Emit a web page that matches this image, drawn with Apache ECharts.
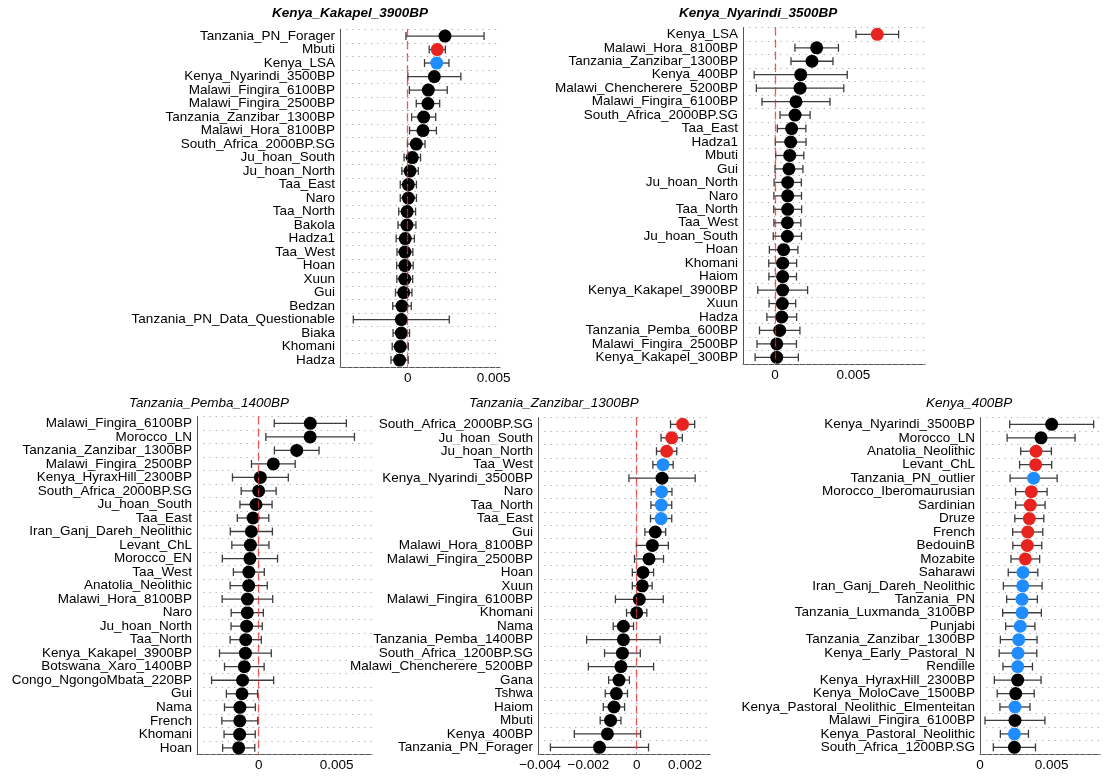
<!DOCTYPE html>
<html>
<head>
<meta charset="utf-8">
<script src="https://cdn.jsdelivr.net/npm/echarts@6/dist/echarts.min.js"></script>
<style>
html,body{margin:0;padding:0;background:#fff}
#chart{width:1108px;height:776px}
</style>
</head>
<body>
<div id="chart"></div>
<script>
// ---- Kenya_Kakapel_3900BP ----
const kakapelPops = ['Tanzania_PN_Forager','Mbuti','Kenya_LSA','Kenya_Nyarindi_3500BP','Malawi_Fingira_6100BP','Malawi_Fingira_2500BP','Tanzania_Zanzibar_1300BP','Malawi_Hora_8100BP','South_Africa_2000BP.SG','Ju_hoan_South','Ju_hoan_North','Taa_East','Naro','Taa_North','Bakola','Hadza1','Taa_West','Hoan','Xuun','Gui','Bedzan','Tanzania_PN_Data_Questionable','Biaka','Khomani','Hadza'];
const kakapelMean = [0.00217,0.00172,0.00169,0.00155,0.00120,0.00118,0.00093,0.00089,0.00050,0.00027,0.00014,0.00004,0.00004,-0.00003,-0.00004,-0.00014,-0.00016,-0.00016,-0.00017,-0.00023,-0.00033,-0.00037,-0.00037,-0.00043,-0.00047];
const kakapelErr = [0.00227,0.00047,0.00071,0.00154,0.00110,0.00068,0.00070,0.00078,0.00051,0.00048,0.00048,0.00047,0.00047,0.00049,0.00052,0.00053,0.00046,0.00048,0.00046,0.00048,0.00054,0.00279,0.00048,0.00047,0.00050];
const kakapelGroup = ['k','r','b','k','k','k','k','k','k','k','k','k','k','k','k','k','k','k','k','k','k','k','k','k','k'];
const kakapelTicks = [0, 0.005];

// ---- Kenya_Nyarindi_3500BP ----
const nyarindiPops = ['Kenya_LSA','Malawi_Hora_8100BP','Tanzania_Zanzibar_1300BP','Kenya_400BP','Malawi_Chencherere_5200BP','Malawi_Fingira_6100BP','South_Africa_2000BP.SG','Taa_East','Hadza1','Mbuti','Gui','Ju_hoan_North','Naro','Taa_North','Taa_West','Ju_hoan_South','Hoan','Khomani','Haiom','Kenya_Kakapel_3900BP','Xuun','Hadza','Tanzania_Pemba_600BP','Malawi_Fingira_2500BP','Kenya_Kakapel_300BP'];
const nyarindiMean = [0.00653,0.00266,0.00236,0.00164,0.00160,0.00134,0.00128,0.00106,0.00100,0.00094,0.00089,0.00081,0.00081,0.00081,0.00079,0.00079,0.00055,0.00049,0.00049,0.00049,0.00047,0.00043,0.00030,0.00011,0.00011];
const nyarindiErr = [0.00136,0.00139,0.00134,0.00297,0.00279,0.00217,0.00096,0.00091,0.00098,0.00090,0.00089,0.00087,0.00088,0.00089,0.00086,0.00090,0.00091,0.00089,0.00088,0.00159,0.00085,0.00095,0.00129,0.00126,0.00138];
const nyarindiGroup = ['r','k','k','k','k','k','k','k','k','k','k','k','k','k','k','k','k','k','k','k','k','k','k','k','k'];
const nyarindiTicks = [0, 0.005];

// ---- Tanzania_Pemba_1400BP ----
const pembaPops = ['Malawi_Fingira_6100BP','Morocco_LN','Tanzania_Zanzibar_1300BP','Malawi_Fingira_2500BP','Kenya_HyraxHill_2300BP','South_Africa_2000BP.SG','Ju_hoan_South','Taa_East','Iran_Ganj_Dareh_Neolithic','Levant_ChL','Morocco_EN','Taa_West','Anatolia_Neolithic','Malawi_Hora_8100BP','Naro','Ju_hoan_North','Taa_North','Kenya_Kakapel_3900BP','Botswana_Xaro_1400BP','Congo_NgongoMbata_220BP','Gui','Nama','French','Khomani','Hoan'];
const pembaMean = [0.00331,0.00330,0.00244,0.00094,0.00011,0.00000,-0.00017,-0.00036,-0.00047,-0.00053,-0.00056,-0.00063,-0.00064,-0.00072,-0.00073,-0.00077,-0.00083,-0.00085,-0.00092,-0.00103,-0.00107,-0.00120,-0.00121,-0.00122,-0.00128];
const pembaErr = [0.00231,0.00284,0.00143,0.00140,0.00179,0.00112,0.00103,0.00101,0.00135,0.00119,0.00177,0.00099,0.00119,0.00162,0.00103,0.00100,0.00100,0.00166,0.00127,0.00199,0.00100,0.00099,0.00115,0.00100,0.00103];
const pembaGroup = ['k','k','k','k','k','k','k','k','k','k','k','k','k','k','k','k','k','k','k','k','k','k','k','k','k'];
const pembaTicks = [0, 0.005];

// ---- Tanzania_Zanzibar_1300BP ----
const zanzibarPops = ['South_Africa_2000BP.SG','Ju_hoan_South','Ju_hoan_North','Taa_West','Kenya_Nyarindi_3500BP','Naro','Taa_North','Taa_East','Gui','Malawi_Hora_8100BP','Malawi_Fingira_2500BP','Hoan','Xuun','Malawi_Fingira_6100BP','Khomani','Nama','Tanzania_Pemba_1400BP','South_Africa_1200BP.SG','Malawi_Chencherere_5200BP','Gana','Tshwa','Haiom','Mbuti','Kenya_400BP','Tanzania_PN_Forager'];
const zanzibarMean = [0.00190,0.00145,0.00124,0.00109,0.00105,0.00103,0.00102,0.00101,0.00077,0.00065,0.00051,0.00026,0.00023,0.00011,0.00000,-0.00055,-0.00055,-0.00059,-0.00065,-0.00073,-0.00084,-0.00094,-0.00108,-0.00121,-0.00154];
const zanzibarErr = [0.00050,0.00044,0.00042,0.00042,0.00137,0.00043,0.00043,0.00044,0.00043,0.00066,0.00060,0.00044,0.00041,0.00099,0.00042,0.00042,0.00152,0.00074,0.00135,0.00043,0.00046,0.00044,0.00043,0.00137,0.00203];
const zanzibarGroup = ['r','r','r','b','k','b','b','b','k','k','k','k','k','k','k','k','k','k','k','k','k','k','k','k','k'];
const zanzibarTicks = [-0.004, -0.002, 0, 0.002];

// ---- Kenya_400BP ----
const kenya400Pops = ['Kenya_Nyarindi_3500BP','Morocco_LN','Anatolia_Neolithic','Levant_ChL','Tanzania_PN_outlier','Morocco_Iberomaurusian','Sardinian','Druze','French','BedouinB','Mozabite','Saharawi','Iran_Ganj_Dareh_Neolithic','Tanzania_PN','Tanzania_Luxmanda_3100BP','Punjabi','Tanzania_Zanzibar_1300BP','Kenya_Early_Pastoral_N','Rendille','Kenya_HyraxHill_2300BP','Kenya_MoloCave_1500BP','Kenya_Pastoral_Neolithic_Elmenteitan','Malawi_Fingira_6100BP','Kenya_Pastoral_Neolithic','South_Africa_1200BP.SG'];
const kenya400Mean = [0.00500,0.00426,0.00391,0.00388,0.00374,0.00358,0.00351,0.00344,0.00333,0.00330,0.00316,0.00300,0.00298,0.00293,0.00293,0.00281,0.00270,0.00265,0.00263,0.00263,0.00249,0.00244,0.00244,0.00240,0.00240];
const kenya400Err = [0.00293,0.00237,0.00107,0.00112,0.00164,0.00110,0.00103,0.00101,0.00105,0.00101,0.00100,0.00103,0.00135,0.00107,0.00135,0.00102,0.00128,0.00131,0.00103,0.00163,0.00129,0.00105,0.00209,0.00098,0.00147];
const kenya400Group = ['k','k','r','r','b','r','r','r','r','r','r','b','b','b','b','b','b','b','b','k','k','b','k','b','k'];
const kenya400Ticks = [0, 0.005];

const FONT = '"Liberation Sans", Arial, Helvetica, sans-serif';
const groupColor = { k: '#000000', r: '#e8231f', b: '#1f8cff' };

// panel layout: plot box in pixels and the x range shown
const panels = [
  { title: 'Kenya_Kakapel_3900BP', bold: true, tx: 272, ty: 6.5,
    pops: kakapelPops, mean: kakapelMean, err: kakapelErr, group: kakapelGroup, ticks: kakapelTicks,
    box: { left: 340, top: 29.3, width: 160, height: 337.5 }, xmin: -0.003934, xmax: 0.005368, zeroLine: true },
  { title: 'Kenya_Nyarindi_3500BP', bold: true, tx: 679, ty: 6.5,
    pops: nyarindiPops, mean: nyarindiMean, err: nyarindiErr, group: nyarindiGroup, ticks: nyarindiTicks,
    box: { left: 743, top: 27.6, width: 182, height: 336.5 }, xmin: -0.002043, xmax: 0.009574, zeroLine: true },
  { title: 'Tanzania_Pemba_1400BP', bold: false, tx: 129, ty: 396,
    pops: pembaPops, mean: pembaMean, err: pembaErr, group: pembaGroup, ticks: pembaTicks,
    box: { left: 197, top: 416.6, width: 175, height: 338 }, xmin: -0.003953, xmax: 0.007265, zeroLine: true },
  { title: 'Tanzania_Zanzibar_1300BP', bold: false, tx: 469, ty: 396,
    pops: zanzibarPops, mean: zanzibarMean, err: zanzibarErr, group: zanzibarGroup, ticks: zanzibarTicks,
    box: { left: 538, top: 417.6, width: 172, height: 336.5 }, xmin: -0.004083, xmax: 0.003034, zeroLine: true },
  { title: 'Kenya_400BP', bold: false, tx: 926, ty: 396,
    pops: kenya400Pops, mean: kenya400Mean, err: kenya400Err, group: kenya400Group, ticks: kenya400Ticks,
    box: { left: 980, top: 417.6, width: 120, height: 336.5 }, xmin: 0, xmax: 0.00837, zeroLine: false }
];

function fmtTick(v) {
  if (v === 0) return '0';
  return (v < 0 ? '\u2212' : '') + String(Math.abs(v));
}

function renderErrBar(params, api) {
  const lo = api.coord([api.value(0), api.value(2)]);
  const hi = api.coord([api.value(1), api.value(2)]);
  const cap = 4;
  const st = { stroke: '#3c3c3c', lineWidth: 1.3 };
  return {
    type: 'group',
    children: [
      { type: 'line', shape: { x1: lo[0], y1: lo[1], x2: hi[0], y2: hi[1] }, style: st },
      { type: 'line', shape: { x1: lo[0], y1: lo[1] - cap, x2: lo[0], y2: lo[1] + cap }, style: st },
      { type: 'line', shape: { x1: hi[0], y1: hi[1] - cap, x2: hi[0], y2: hi[1] + cap }, style: st }
    ]
  };
}

const grid = [], xAxis = [], yAxis = [], series = [], title = [];

panels.forEach((p, i) => {
  grid.push(Object.assign({ containLabel: false }, p.box));
  title.push({
    text: p.title, left: p.tx, top: p.ty, padding: 0,
    textStyle: { fontFamily: FONT, fontSize: 13.5, fontStyle: 'italic', fontWeight: p.bold ? 'bold' : 'normal', color: '#000' }
  });
  xAxis.push({
    type: 'value', gridIndex: i, min: p.xmin, max: p.xmax,
    axisLine: { show: true, onZero: false, lineStyle: { color: '#555', width: 1 } },
    axisTick: { show: false },
    splitLine: { show: false },
    axisLabel: {
      customValues: p.ticks, formatter: fmtTick, showMinLabel: true, showMaxLabel: true,
      fontFamily: FONT, fontSize: 13.5, color: '#000', margin: 4
    }
  });
  yAxis.push({
    type: 'category', gridIndex: i, data: p.pops, inverse: true, z: 2 + i,
    axisLine: { show: true, onZero: false, lineStyle: { color: '#555', width: 1 } },
    axisTick: { show: false },
    splitLine: { show: true, lineStyle: { color: '#a8a8a8', width: 1, type: [1.2, 5] } },
    axisLabel: {
      fontFamily: FONT, fontSize: 13.5, color: '#000', margin: 5, interval: 0,
      backgroundColor: i === 3 ? '#fff' : 'transparent'
    }
  });
  // vertical dotted guides at the tick positions
  series.push({
    type: 'line', xAxisIndex: i, yAxisIndex: i, data: [], z: 1, silent: true,
    markLine: {
      silent: true, symbol: 'none', label: { show: false }, animation: false,
      lineStyle: { color: '#a8a8a8', width: 1, type: [1.2, 5] },
      data: p.ticks.map(v => ({ xAxis: v }))
    }
  });
  // error bars
  series.push({
    type: 'custom', xAxisIndex: i, yAxisIndex: i, z: 2, silent: true,
    renderItem: renderErrBar,
    encode: { x: [0, 1], y: 2 },
    data: p.mean.map((m, k) => [m - p.err[k], m + p.err[k], k])
  });
  // point estimates
  series.push({
    type: 'scatter', xAxisIndex: i, yAxisIndex: i, z: 3, silent: true,
    symbol: 'circle', symbolSize: 13,
    data: p.mean.map((m, k) => ({ value: [m, k], itemStyle: { color: groupColor[p.group[k]], opacity: 1 } }))
  });
  // reference line at zero
  if (p.zeroLine) {
    series.push({
      type: 'line', xAxisIndex: i, yAxisIndex: i, data: [], z: 4, silent: true,
      markLine: {
        silent: true, symbol: 'none', label: { show: false }, animation: false,
        lineStyle: { color: 'rgba(232,35,31,0.72)', width: 1.3, type: [8, 4] },
        data: [{ xAxis: 0 }]
      }
    });
  }
});

const chart = echarts.init(document.getElementById('chart'), null, { renderer: 'canvas' });
chart.setOption({
  animation: false,
  backgroundColor: '#ffffff',
  title, grid, xAxis, yAxis, series
});
</script>
</body>
</html>
